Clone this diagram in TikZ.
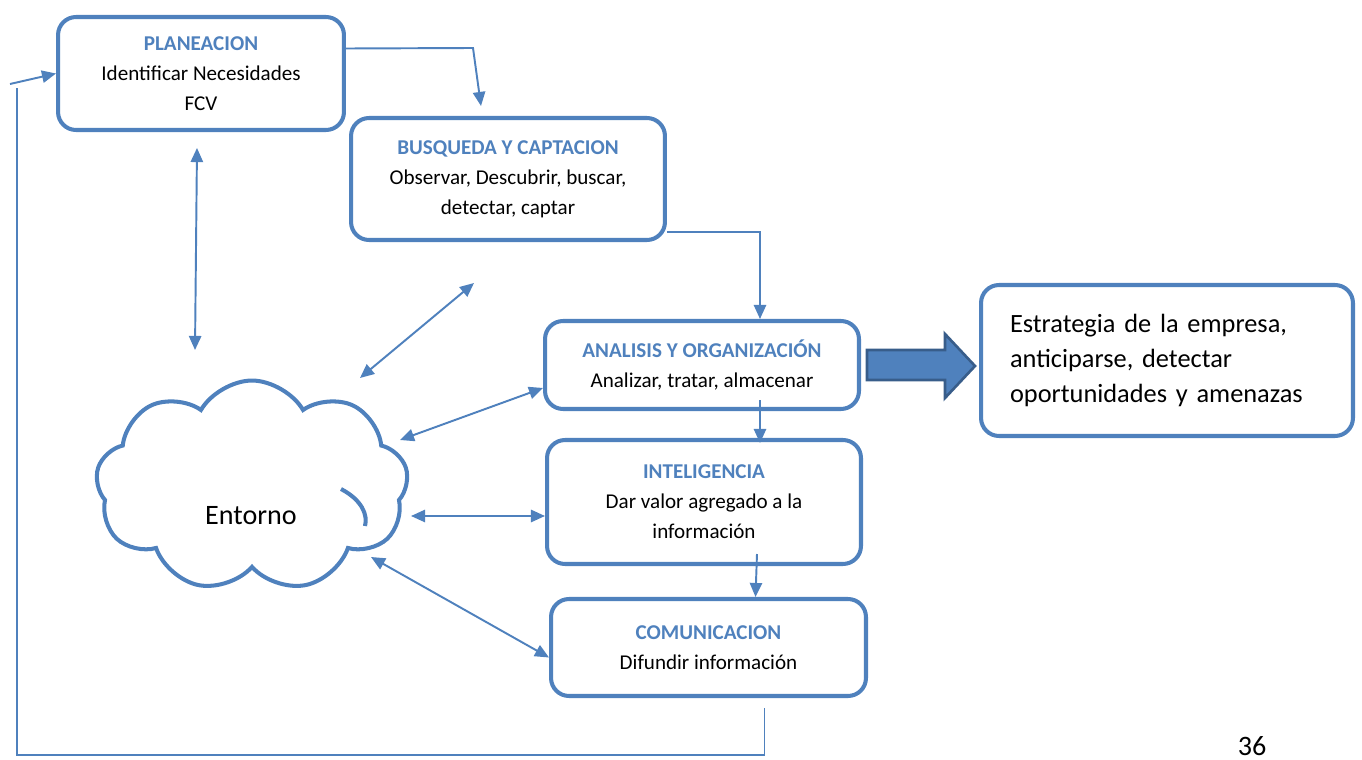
\documentclass[tikz,border=0pt]{standalone}
\usepackage{xcolor}
\usepackage{fontspec}
\setmainfont{Carlito}
\usepackage{tikz}
\usetikzlibrary{positioning, arrows.meta, shapes.symbols}
\definecolor{ofblue}{HTML}{4F81BD}
\definecolor{ofdark}{HTML}{385D8A}
\newcommand{\stagehead}[1]{\textcolor{ofblue}{\textbf{#1}}}
\tikzset{
  stagebox/.style={draw=ofblue, line width=2.3pt, rounded corners=0.36cm, fill=white,
    align=center, inner sep=2pt, font=\fontsize{12}{17}\selectfont},
  conn/.style={draw=ofblue, line width=1.1pt, -{Triangle[length=8pt,width=7pt]}},
  biconn/.style={conn, {Triangle[length=8pt,width=7pt]}-{Triangle[length=8pt,width=7pt]}}
}

\begin{document}
\begin{tikzpicture}[x=0.02cm, y=-0.02cm]
    \useasboundingbox (0,0) rectangle (1362,760);
    \node[stagebox, minimum width=5.72cm, minimum height=2.26cm] (plan) at (201,73.5)
      {\stagehead{PLANEACION}\\Identificar Necesidades\\FCV};
    \node[stagebox, minimum width=6.28cm, minimum height=2.44cm] (busq) at (508,179)
      {\stagehead{BUSQUEDA Y CAPTACION}\\Observar, Descubrir, buscar,\\detectar, captar};
    \node[stagebox, minimum width=6.28cm, minimum height=1.76cm] (anal) at (702,365)
      {\stagehead{ANALISIS Y ORGANIZACIÓN}\\Analizar, tratar, almacenar};
    \node[stagebox, minimum width=6.28cm, minimum height=2.48cm] (intel) at (704,502)
      {\stagehead{INTELIGENCIA}\\Dar valor agregado a la\\información};
    \node[stagebox, minimum width=6.3cm, minimum height=1.94cm] (comu) at (708.5,647.5)
      {\stagehead{COMUNICACION}\\Difundir información};
    \node[stagebox, minimum width=7.44cm, minimum height=3.02cm, text width=6.28cm, align=left,
          font=\fontsize{15}{20}\selectfont] (estr) at (1167,360.5)
      {Estrategia de la empresa,\\anticiparse, detectar\\oportunidades y amenazas};
    \node[cloud, draw=ofblue, line width=2.3pt, cloud puffs=9, cloud puff arc=120,
          minimum width=6.25cm, minimum height=4.22cm] (entorno) at (252,486) {};
    \draw[ofblue, line width=2.3pt] (341,489) .. controls (362,500) and (368,515) .. (365,526);
    \node[font=\fontsize{16}{19}\selectfont] (entornotxt) at (251,516) {Entorno};
    \node[font=\fontsize{16}{19}\selectfont, anchor=base] (pagenum) at (1252,755) {36};

    \filldraw[fill=ofblue, draw=ofdark, line width=1.5pt]
      (867,350) -- (945,350) -- (945,334) -- (975,366) -- (945,398) -- (945,380) -- (867,380) -- cycle;

    \coordinate (e1) at (197,148);
    \coordinate (e2) at (195,350);
    \coordinate (e3) at (360,378);
    \coordinate (e4) at (474,283);
    \coordinate (e5) at (400,440);
    \coordinate (e6) at (411,516);
    \coordinate (e7) at (371,557);

    \draw[conn] ([yshift=0.5cm]plan.east) -- (473,48) -- ([xshift=-0.54cm,yshift=0.2cm]busq.north);
    \draw[conn] ([yshift=-1.06cm]busq.east) -| ([xshift=1.16cm]anal.north);
    \draw[conn] ([xshift=1.16cm,yshift=0.22cm]anal.south) -- ([xshift=1.12cm,yshift=-0.1cm]intel.north);
    \draw[conn] ([xshift=1.06cm,yshift=0.24cm]intel.south) -- ([xshift=0.94cm]comu.north);
    \draw[draw=ofblue, line width=1.1pt] ([xshift=1.12cm,yshift=-0.2cm]comu.south) |- (17,755) -- (17,88);
    \draw[conn] (10,84) -- (plan.west);

    \draw[biconn] (e1) -- (e2);
    \draw[biconn] (e3) -- (e4);
    \draw[biconn] (e5) -- ([yshift=-0.46cm]anal.west);
    \draw[biconn] (e6) -- ([yshift=-0.28cm]intel.west);
    \draw[biconn] (e7) -- ([yshift=-0.2cm]comu.west);
  \end{tikzpicture}
\end{document}
